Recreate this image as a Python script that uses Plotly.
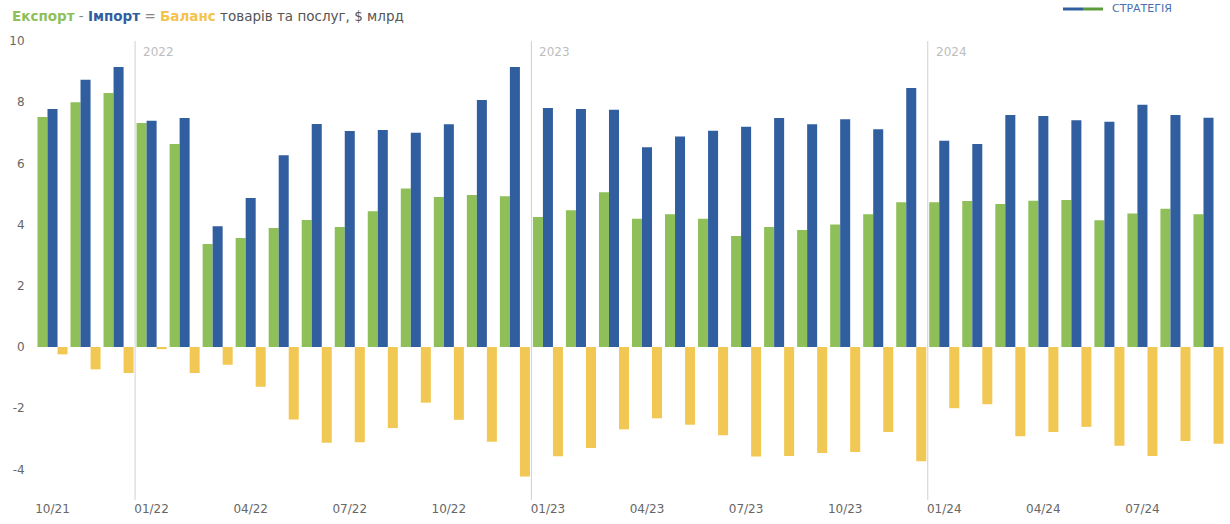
import plotly.graph_objects as go

months = ["10/21", "11/21", "12/21",
          "01/22", "02/22", "03/22", "04/22", "05/22", "06/22", "07/22", "08/22", "09/22", "10/22", "11/22", "12/22",
          "01/23", "02/23", "03/23", "04/23", "05/23", "06/23", "07/23", "08/23", "09/23", "10/23", "11/23", "12/23",
          "01/24", "02/24", "03/24", "04/24", "05/24", "06/24", "07/24", "08/24", "09/24"]

export = [7.52, 8.0, 8.3,
          7.32, 6.63, 3.37, 3.56, 3.89, 4.15, 3.92, 4.44, 5.18, 4.9, 4.97, 4.93,
          4.25, 4.47, 5.06, 4.19, 4.34, 4.19, 3.63, 3.92, 3.82, 4.0, 4.34, 4.73,
          4.73, 4.77, 4.67, 4.78, 4.8, 4.14, 4.36, 4.52, 4.34]

imports = [7.78, 8.73, 9.15,
           7.39, 7.48, 3.95, 4.87, 6.27, 7.29, 7.06, 7.09, 7.0, 7.28, 8.07, 9.15,
           7.81, 7.78, 7.75, 6.53, 6.88, 7.07, 7.2, 7.48, 7.28, 7.44, 7.12, 8.46,
           6.74, 6.63, 7.58, 7.55, 7.41, 7.36, 7.92, 7.58, 7.49]

balance = [-0.24, -0.73, -0.85,
           -0.07, -0.85, -0.58, -1.3, -2.37, -3.13, -3.11, -2.65, -1.82, -2.38, -3.1, -4.23,
           -3.57, -3.3, -2.69, -2.33, -2.54, -2.88, -3.58, -3.56, -3.46, -3.43, -2.78, -3.73,
           -2.0, -1.87, -2.92, -2.78, -2.61, -3.23, -3.56, -3.07, -3.16]

tick_labels = ["10/21", "01/22", "04/22", "07/22", "10/22", "01/23", "04/23", "07/23",
               "10/23", "01/24", "04/24", "07/24"]
y_ticks = [-4, -2, 0, 2, 4, 6, 8, 10]
y_tick_labels = ["-4", "-2", "0", "2", "4", "6", "8", "10"]
years = ["2022", "2023", "2024"]

GREEN = "#8fbf59"
BLUE = "#315e9f"
YELLOW = "#f2c854"
FONT = "DejaVu Sans"

x = list(range(len(months)))

fig = go.Figure()
fig.add_bar(x=x, y=export, name="Експорт", marker=dict(color=GREEN, line=dict(width=0)))
fig.add_bar(x=x, y=imports, name="Імпорт", marker=dict(color=BLUE, line=dict(width=0)))
fig.add_bar(x=x, y=balance, name="Баланс", marker=dict(color=YELLOW, line=dict(width=0)))

tick_vals = [months.index(t) for t in tick_labels]

# year separators
for yr in years:
    pos = months.index("01/" + yr[2:]) - 0.5
    fig.add_shape(type="line", xref="x", yref="paper", x0=pos, x1=pos, y0=0, y1=1,
                  line=dict(color="#d0d0d0", width=1))
    fig.add_annotation(x=pos, xref="x", y=0.977, yref="paper", text=yr, showarrow=False,
                       xanchor="left", yanchor="middle", xshift=6,
                       font=dict(family=FONT, size=12, color="#bdbdbd"))

title = ("<b><span style='color:%s'>Експорт</span></b> <span style='color:#888'>-</span> "
         "<b><span style='color:%s'>Імпорт</span></b> <span style='color:#888'>=</span> "
         "<b><span style='color:%s'>Баланс</span></b> <span style='color:#555'>товарів та послуг, $ млрд</span>"
         % (GREEN, BLUE, "#f5c34a"))
fig.add_annotation(x=(10 - 36) / 1189, xref="paper", y=(500 - 16) / 459, yref="paper", text=title,
                   showarrow=False, xanchor="left", yanchor="middle",
                   font=dict(family=FONT, size=13.5, color="#555"))

# logo at top right
fig.add_shape(type="line", xref="paper", yref="paper", x0=(1063 - 36) / 1189, x1=(1083 - 36) / 1189,
              y0=(500 - 9) / 459, y1=(500 - 9) / 459, line=dict(color=BLUE, width=3))
fig.add_shape(type="line", xref="paper", yref="paper", x0=(1083 - 36) / 1189, x1=(1103 - 36) / 1189,
              y0=(500 - 9) / 459, y1=(500 - 9) / 459, line=dict(color="#5c9a3c", width=3))
fig.add_annotation(x=(1110 - 36) / 1189, xref="paper", y=(500 - 8) / 459, yref="paper",
                   text="СТРАТЕГІЯ", showarrow=False, xanchor="left", yanchor="middle",
                   font=dict(family=FONT, size=11, color="#4a6fae"))

fig.update_layout(
    width=1230, height=524,
    margin=dict(l=36, r=5, t=41, b=24, autoexpand=False),
    paper_bgcolor="white", plot_bgcolor="white",
    barmode="group", bargap=0.09, bargroupgap=0,
    showlegend=False,
    font=dict(family=FONT, size=12, color="#666"),
)
fig.update_xaxes(range=[-0.5, len(months) - 0.5], tickmode="array", tickvals=tick_vals,
                 ticktext=tick_labels, showgrid=False, zeroline=False, showline=False,
                 ticks="", tickfont=dict(family=FONT, size=12, color="#666"), automargin=False)
fig.update_yaxes(range=[-5, 10], tickmode="array", tickvals=y_ticks, ticktext=y_tick_labels,
                 showgrid=False, zeroline=False, showline=False, ticks="outside", ticklen=8,
                 tickcolor="rgba(0,0,0,0)", tickfont=dict(family=FONT, size=12, color="#666"),
                 automargin=False)

fig.write_html("out.html", config={"displayModeBar": False},
               post_script="document.body.style.margin='0';document.body.style.padding='0';")
